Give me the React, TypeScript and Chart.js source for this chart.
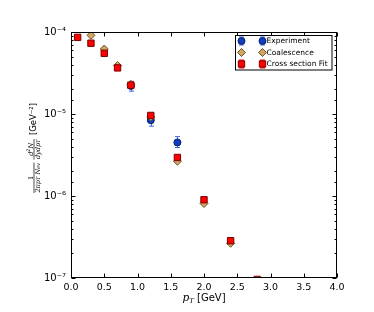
import React, { useEffect, useRef } from "react";
import { Chart, registerables } from "chart.js";

Chart.register(...registerables);

// ---- data ----
const expX = [0.9, 1.2, 1.6];
const expY = [2.2e-5, 8.4e-6, 4.5e-6];
const expHi = [2.5e-5, 1.0e-5, 5.3e-6];
const expLo = [1.9e-5, 7.1e-6, 3.9e-6];

const coalX = [0.3, 0.5, 0.7, 0.9, 1.2, 1.6, 2.0, 2.4];
const coalY = [9.1e-5, 6.2e-5, 3.9e-5, 2.3e-5, 9.2e-6, 2.65e-6, 8.1e-7, 2.65e-7];

const fitX = [0.1, 0.3, 0.5, 0.7, 0.9, 1.2, 1.6, 2.0, 2.4, 2.8];
const fitY = [8.6e-5, 7.3e-5, 5.5e-5, 3.65e-5, 2.25e-5, 9.6e-6, 2.95e-6, 9.0e-7, 2.85e-7, 9.6e-8];

const legendLabels = ["Experiment", "Coalescence", "Cross section Fit"];
const xMin = 0, xMax = 4, xStep = 0.5;
const yMin = 1e-7, yMax = 1e-4;

// ---- styles ----
const BLUE = "#0f3fc0";
const BLUE_EDGE = "#0a1f66";
const BLUE_ERR = "#3b6be0";
const TAN = "#d4a55e";
const TAN_EDGE = "#6a5430";
const RED = "#ff0000";
const RED_EDGE = "#7a0000";
const FONT = "'DejaVu Sans', sans-serif";

const SUP: Record<string, string> = {
  "-": "\u207B", "0": "\u2070", "1": "\u00B9", "2": "\u00B2", "3": "\u00B3",
  "4": "\u2074", "5": "\u2075", "6": "\u2076", "7": "\u2077", "8": "\u2078", "9": "\u2079",
};
const sup = (s: string) => s.split("").map((c) => SUP[c] || c).join("");

const isDecade = (v: number) => {
  const l = Math.log10(v);
  return Math.abs(l - Math.round(l)) < 1e-6;
};

function drawMarker(ctx: CanvasRenderingContext2D, kind: string, x: number, y: number) {
  ctx.save();
  ctx.lineWidth = 1;
  ctx.beginPath();
  if (kind === "circle") {
    ctx.fillStyle = BLUE; ctx.strokeStyle = BLUE_EDGE;
    ctx.arc(x, y, 3.5, 0, Math.PI * 2);
  } else if (kind === "diamond") {
    ctx.fillStyle = TAN; ctx.strokeStyle = TAN_EDGE;
    ctx.moveTo(x, y - 4); ctx.lineTo(x + 4, y); ctx.lineTo(x, y + 4); ctx.lineTo(x - 4, y); ctx.closePath();
  } else {
    ctx.fillStyle = RED; ctx.strokeStyle = RED_EDGE;
    ctx.rect(x - 3.2, y - 3.2, 6.4, 6.4);
  }
  ctx.fill(); ctx.stroke();
  ctx.restore();
}

function drawErr(ctx: CanvasRenderingContext2D, color: string, x: number, y1: number, y2: number) {
  ctx.save();
  ctx.strokeStyle = color; ctx.lineWidth = 1;
  ctx.beginPath();
  ctx.moveTo(x, y1); ctx.lineTo(x, y2);
  ctx.moveTo(x - 2.5, y1); ctx.lineTo(x + 2.5, y1);
  ctx.moveTo(x - 2.5, y2); ctx.lineTo(x + 2.5, y2);
  ctx.stroke();
  ctx.restore();
}

const decor = {
  id: "decor",
  beforeDatasetsDraw(chart: any) {
    const { ctx, scales } = chart;
    const x = scales.x, y = scales.y;
    expX.forEach((v, i) => {
      const px = Math.round(x.getPixelForValue(v)) + 0.5;
      drawErr(ctx, BLUE_ERR, px, y.getPixelForValue(expHi[i]), y.getPixelForValue(expLo[i]));
    });
  },
  afterDraw(chart: any) {
    const { ctx, chartArea: a, scales } = chart;
    const x = scales.x, y = scales.y;
    const L = Math.round(a.left) + 0.5, R = Math.round(a.right) - 0.5;
    const T = Math.round(a.top) + 0.5, B = Math.round(a.bottom) - 0.5;
    ctx.save();
    ctx.strokeStyle = "#000";
    ctx.lineWidth = 1;
    // inward ticks
    ctx.beginPath();
    y.ticks.forEach((t: any) => {
      if (t.value < yMin * 0.999 || t.value > yMax * 1.001) return;
      const py = Math.round(y.getPixelForValue(t.value)) + 0.5;
      const len = isDecade(t.value) ? 4 : 2;
      ctx.moveTo(L, py); ctx.lineTo(L + len, py);
      ctx.moveTo(R, py); ctx.lineTo(R - len, py);
    });
    x.ticks.forEach((t: any) => {
      const px = Math.round(x.getPixelForValue(t.value)) + 0.5;
      ctx.moveTo(px, B); ctx.lineTo(px, B - 4);
      ctx.moveTo(px, T); ctx.lineTo(px, T + 4);
    });
    ctx.stroke();
    // frame
    ctx.strokeRect(L, T, R - L, B - T);

    // legend
    const lx = 235.5, ly = 35.5, lw = 96.5, lh = 34.5;
    ctx.fillStyle = "#fff";
    ctx.fillRect(lx, ly, lw, lh);
    ctx.strokeStyle = "#000";
    ctx.strokeRect(lx, ly, lw, lh);
    const rows = [41, 52.5, 64];
    const kinds = ["circle", "diamond", "square"];
    const errCols = [BLUE_ERR, TAN_EDGE, RED];
    rows.forEach((ry, i) => {
      [241.5, 262.5].forEach((mx) => {
        if (i !== 1) drawErr(ctx, errCols[i], mx, ry - 4, ry + 4);
        drawMarker(ctx, kinds[i], mx, ry);
      });
      ctx.fillStyle = "#000";
      ctx.font = `7.5px ${FONT}`;
      ctx.textAlign = "left";
      ctx.textBaseline = "middle";
      ctx.fillText(legendLabels[i], 266.5, ry + 0.5);
    });

    // x title: p_T [GeV]
    {
      const cx = (a.left + a.right) / 2;
      const by = 301;
      ctx.fillStyle = "#000";
      ctx.textBaseline = "alphabetic";
      ctx.textAlign = "left";
      const pFont = `italic 10.5px 'DejaVu Serif', serif`;
      const tFont = `italic 7px 'DejaVu Serif', serif`;
      const gFont = `10px ${FONT}`;
      ctx.font = pFont; const wp = ctx.measureText("p").width;
      ctx.font = tFont; const wt = ctx.measureText("T").width;
      ctx.font = gFont; const wg = ctx.measureText(" [GeV]").width;
      let sx = cx - (wp + wt + wg) / 2;
      ctx.font = pFont; ctx.fillText("p", sx, by); sx += wp;
      ctx.font = tFont; ctx.fillText("T", sx, by + 2); sx += wt;
      ctx.font = gFont; ctx.fillText(" [GeV]", sx, by);
    }

    // y title (rotated)
    {
      ctx.save();
      ctx.translate(34, 148);
      ctx.rotate(-Math.PI / 2);
      ctx.fillStyle = "#000";
      ctx.strokeStyle = "#000";
      const small = `italic 6.5px 'DejaVu Serif', serif`;
      const tiny = `italic 5px 'DejaVu Serif', serif`;
      const seg = (parts: [string, string, number][]) => {
        let w = 0;
        parts.forEach(([t, f]) => { ctx.font = f; w += ctx.measureText(t).width; });
        return w;
      };
      const drawSeg = (parts: [string, string, number][], sx: number, by: number) => {
        parts.forEach(([t, f, dy]) => {
          ctx.font = f; ctx.fillText(t, sx, by + dy); sx += ctx.measureText(t).width;
        });
      };
      const num1: [string, string, number][] = [["1", `6.5px 'DejaVu Serif', serif`, 0]];
      const den1: [string, string, number][] = [["2\u03C0p", small, 0], ["T", tiny, 1.5], [" N", small, 0], ["ev", tiny, 1.5]];
      const num2: [string, string, number][] = [["d", small, 0], ["2", tiny, -2.5], ["N", small, 0]];
      const den2: [string, string, number][] = [["dydp", small, 0], ["T", tiny, 1.5]];
      const gev = `8.5px ${FONT}`;
      ctx.font = gev;
      const gevText = "[GeV" + sup("-2") + "]";
      const wGev = ctx.measureText(gevText).width;
      const w1 = Math.max(seg(num1), seg(den1)) + 1;
      const w2 = Math.max(seg(num2), seg(den2)) + 1;
      const gap1 = 3, gap2 = 4;
      const total = w1 + gap1 + w2 + gap2 + wGev;
      let sx = -total / 2;
      ctx.lineWidth = 0.7;
      ctx.textAlign = "left";
      const frac = (num: any, den: any, w: number) => {
        ctx.beginPath(); ctx.moveTo(sx, 0); ctx.lineTo(sx + w, 0); ctx.stroke();
        ctx.textBaseline = "alphabetic";
        drawSeg(num, sx + (w - seg(num)) / 2, -1.3);
        ctx.textBaseline = "top";
        drawSeg(den, sx + (w - seg(den)) / 2, 1.2);
        sx += w;
      };
      frac(num1, den1, w1);
      sx += gap1;
      frac(num2, den2, w2);
      sx += gap2;
      ctx.font = gev;
      ctx.textBaseline = "middle";
      ctx.fillText(gevText, sx, 0);
      ctx.restore();
    }
    ctx.restore();
  },
};

export default function App() {
  const ref = useRef<HTMLCanvasElement | null>(null);
  useEffect(() => {
    if (!ref.current) return;
    const chart = new Chart(ref.current, {
      type: "scatter",
      data: {
        datasets: [
          {
            label: legendLabels[0],
            data: expX.map((v, i) => ({ x: v, y: expY[i] })),
            pointStyle: "circle",
            pointRadius: 3.5,
            backgroundColor: BLUE,
            borderColor: BLUE_EDGE,
            borderWidth: 1,
            order: 2,
            clip: 0,
          },
          {
            label: legendLabels[1],
            data: coalX.map((v, i) => ({ x: v, y: coalY[i] })),
            pointStyle: "rectRot",
            pointRadius: 4,
            backgroundColor: TAN,
            borderColor: TAN_EDGE,
            borderWidth: 1,
            order: 1,
            clip: 0,
          },
          {
            label: legendLabels[2],
            data: fitX.map((v, i) => ({ x: v, y: fitY[i] })),
            pointStyle: "rect",
            pointRadius: 4.5,
            backgroundColor: RED,
            borderColor: RED_EDGE,
            borderWidth: 1,
            order: 0,
            clip: 0,
          },
        ],
      },
      options: {
        animation: false,
        responsive: false,
        maintainAspectRatio: false,
        events: [],
        layout: { padding: { left: 0, top: 32, right: 37, bottom: 0 } },
        plugins: { legend: { display: false }, tooltip: { enabled: false } },
        scales: {
          x: {
            type: "linear",
            min: xMin,
            max: xMax,
            grid: { display: false, drawTicks: false },
            border: { display: false },
            ticks: {
              stepSize: xStep,
              padding: 4,
              color: "#000",
              font: { family: FONT, size: 9.5 },
              maxRotation: 0,
              callback: (v: any) => Number(v).toFixed(1),
            },
            afterFit: (s: any) => { s.height = 34; },
          },
          y: {
            type: "logarithmic",
            min: yMin,
            max: yMax,
            grid: { display: false, drawTicks: false },
            border: { display: false },
            ticks: {
              autoSkip: false,
              padding: 5,
              color: "#000",
              font: { family: FONT, size: 10 },
              callback: (v: any) => {
                const n = Number(v);
                if (!isDecade(n)) return "";
                return "10" + sup(String(Math.round(Math.log10(n))));
              },
            },
            afterFit: (s: any) => { s.width = 71; },
          },
        },
      },
      plugins: [decor],
    });
    return () => chart.destroy();
  }, []);
  return (
    <div style={{ position: "fixed", left: 0, top: 0, width: 374, height: 312, background: "#fff" }}>
      <canvas ref={ref} width={374} height={312} style={{ width: 374, height: 312, display: "block" }} />
    </div>
  );
}
